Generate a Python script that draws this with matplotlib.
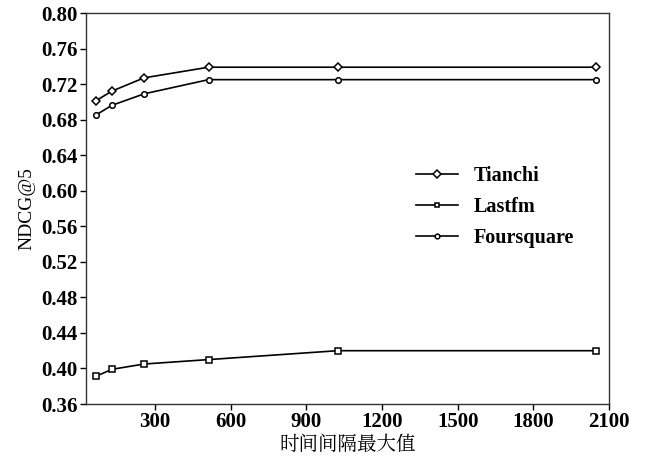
import matplotlib
matplotlib.use("Agg")
import matplotlib.pyplot as plt

x_vals = [64, 128, 256, 512, 1024, 2048]
tianchi = [0.701, 0.712, 0.727, 0.739, 0.739, 0.739]
lastfm = [0.391, 0.399, 0.405, 0.410, 0.420, 0.420]
foursquare = [0.685, 0.696, 0.709, 0.725, 0.725, 0.725]
x_ticks = [300, 600, 900, 1200, 1500, 1800, 2100]
y_ticks = [0.36, 0.40, 0.44, 0.48, 0.52, 0.56, 0.60, 0.64, 0.68, 0.72, 0.76, 0.80]

serif = ['Liberation Serif', 'DejaVu Serif']
fig = plt.figure(figsize=(6.48, 4.61), dpi=100)
ax = fig.add_axes([0.1327, 0.1236, 0.8071, 0.8482])

kw = dict(color='black', lw=1.2, markerfacecolor='white', markeredgecolor='black', markeredgewidth=1.1)
ax.plot(x_vals, tianchi, marker='D', markersize=4.5, label='Tianchi', **kw)
ax.plot(x_vals, lastfm, marker='s', markersize=4, label='Lastfm', **kw)
ax.plot(x_vals, foursquare, marker='o', markersize=4, label='Foursquare', **kw)

ax.set_xlim(26, 2100)
ax.set_ylim(0.36, 0.80)
ax.set_xticks(x_ticks)
ax.set_yticks(y_ticks)
ax.set_xticklabels([str(t) for t in x_ticks], fontfamily=serif, fontweight='bold', fontsize=15)
ax.set_yticklabels([f"{t:.2f}" for t in y_ticks], fontfamily=serif, fontweight='bold', fontsize=15)
ax.tick_params(direction='out', length=4, width=1, colors='black', pad=2)
for s in ax.spines.values():
    s.set_linewidth(1.0)
    s.set_color('#333333')

ax.set_ylabel('NDCG@5', fontfamily=serif, fontsize=14, labelpad=4)
ax.set_xlabel('时间间隔最大值', fontfamily=['Noto Serif CJK SC', 'Noto Sans CJK SC'], fontsize=14, labelpad=2)

leg = ax.legend(loc='center left', bbox_to_anchor=(0.596, 0.504), frameon=False,
                prop={'family': serif, 'weight': 'bold', 'size': 14.5},
                handlelength=2.1, labelspacing=0.55, handletextpad=0.75,
                markerscale=0.85)

fig.savefig('out.png', dpi=100)
